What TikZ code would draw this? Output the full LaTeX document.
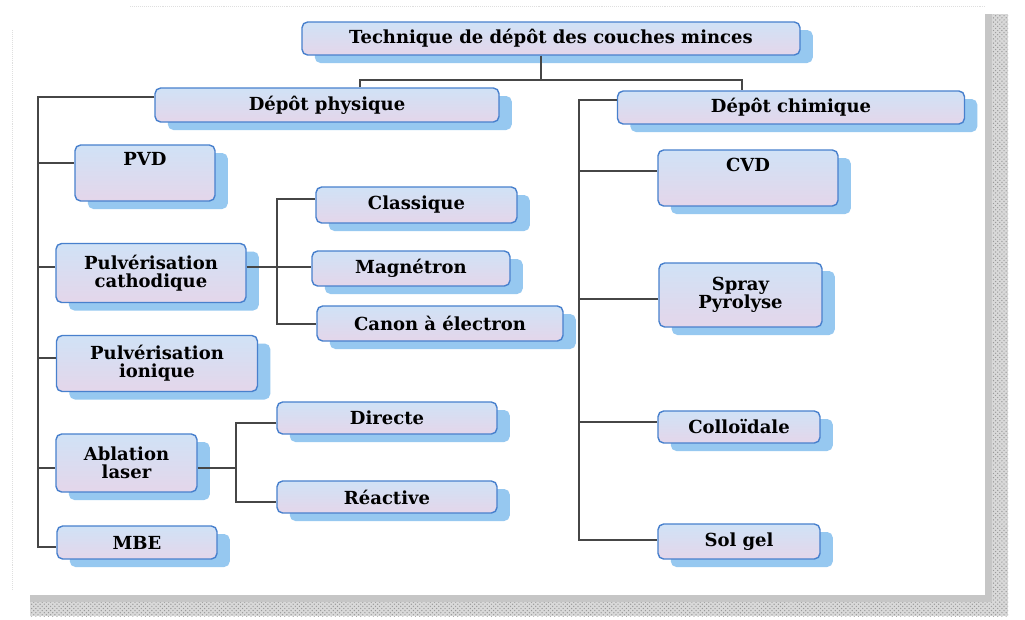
\documentclass[tikz,border=0pt]{standalone}
\usepackage{fontspec}
\setmainfont{DejaVu Serif}
\usetikzlibrary{shadows,patterns}

\definecolor{boxline}{RGB}{72,128,205}
\definecolor{boxtop}{RGB}{208,226,246}
\definecolor{boxbot}{RGB}{228,214,234}
\definecolor{boxshadow}{RGB}{150,200,240}
\definecolor{connline}{RGB}{70,70,70}

\begin{document}
\begin{tikzpicture}[x=0.025cm, y=-0.025cm,
	box/.style={draw=boxline, line width=1pt, rounded corners=4pt,
		top color=boxtop, bottom color=boxbot, align=center, inner sep=1pt,
		font=\fontsize{12.8}{13}\selectfont\bfseries,
		drop shadow={shadow xshift=0.32cm, shadow yshift=-0.2cm, fill=boxshadow, opacity=1}},
	raised/.style={text depth=0.68cm},
	conn/.style={connline, line width=1.1pt}]
\useasboundingbox (0,0) rectangle (1025,619);

%page shadow
	\fill[gray!30] (985,14) rectangle (1008,616);
	\fill[gray!30] (30,595) rectangle (985,616);
	\fill[pattern=crosshatch dots, pattern color=gray!80] (985,14) rectangle (1008,616);
	\fill[pattern=crosshatch dots, pattern color=gray!80] (30,595) rectangle (985,616);
	\fill[gray!45] (985,14) rectangle (992,602);
	\fill[gray!45] (30,595) rectangle (992,602);
	\draw[gray!25, densely dotted] (130,6) -- (985,6);
	\draw[gray!25, densely dotted] (12,30) -- (12,590);
	\fill[white] (22,10) rectangle (985,595);

%boxes
	\node[box, minimum width=498*0.025cm, minimum height=33*0.025cm] (title) at (551,38.5) {Technique de dépôt des couches minces};
	\node[box, minimum width=344*0.025cm, minimum height=34*0.025cm] (phys) at (327,105) {Dépôt physique};
	\node[box, minimum width=347*0.025cm, minimum height=33*0.025cm] (chim) at (791,107.5) {Dépôt chimique};

	\node[box, raised, minimum width=140*0.025cm, minimum height=56*0.025cm] (pvd) at (145,173) {PVD};
	\node[box, minimum width=190*0.025cm, minimum height=59*0.025cm] (cath) at (151,273) {Pulvérisation\\cathodique};
	\node[box, minimum width=201*0.025cm, minimum height=56*0.025cm] (ion) at (157,363.5) {Pulvérisation\\ionique};
	\node[box, minimum width=141*0.025cm, minimum height=58*0.025cm] (abl) at (126.5,463) {Ablation\\laser};
	\node[box, minimum width=160*0.025cm, minimum height=33*0.025cm] (mbe) at (137,542.5) {MBE};

	\node[box, minimum width=201*0.025cm, minimum height=36*0.025cm] (cla) at (416.5,205) {Classique};
	\node[box, minimum width=198*0.025cm, minimum height=35*0.025cm] (mag) at (411,268.5) {Magnétron};
	\node[box, minimum width=246*0.025cm, minimum height=35*0.025cm] (can) at (440,323.5) {Canon à électron};
	\node[box, minimum width=220*0.025cm, minimum height=32*0.025cm] (dir) at (387,418) {Directe};
	\node[box, minimum width=220*0.025cm, minimum height=32*0.025cm] (rea) at (387,497) {Réactive};

	\node[box, raised, minimum width=180*0.025cm, minimum height=56*0.025cm] (cvd) at (748,178) {CVD};
	\node[box, minimum width=163*0.025cm, minimum height=64*0.025cm] (spr) at (740.5,295) {Spray\\Pyrolyse};
	\node[box, minimum width=162*0.025cm, minimum height=32*0.025cm] (col) at (739,427) {Colloïdale};
	\node[box, minimum width=162*0.025cm, minimum height=35*0.025cm] (sol) at (739,541.5) {Sol gel};

%top lines
	\coordinate (tj) at (541,80);
	\coordinate (pj) at (360,80);
	\coordinate (cj) at (742,80);
	\draw[conn] (tj |- title.south) -- (tj);
	\draw[conn] (pj |- phys.north) -- (pj) -- (cj) -- (cj |- chim.north);

%left trunk
	\coordinate (ltop) at (38,97);
	\coordinate (lbot) at (38,547);
	\draw[conn] (ltop -| phys.west) -- (ltop) -- (lbot) -- (lbot -| mbe.west);
	\foreach \n/\y in {pvd/163, cath/267, ion/358, abl/468}{
		\coordinate (l\n) at (38,\y);
		\draw[conn] (l\n) -- (l\n -| \n.west);
	}

%pulverisation cathodique
	\coordinate (cs) at (277,199);
	\coordinate (cm) at (277,267);
	\coordinate (ce) at (277,324);
	\draw[conn] (cm -| cath.east) -- (cm) -- (cm -| mag.west);
	\draw[conn] (cs -| cla.west) -- (cs) -- (ce) -- (ce -| can.west);

%ablation laser
	\coordinate (as) at (236,423);
	\coordinate (am) at (236,468);
	\coordinate (ae) at (236,502);
	\draw[conn] (am -| abl.east) -- (am);
	\draw[conn] (as -| dir.west) -- (as) -- (ae) -- (ae -| rea.west);

%right trunk
	\coordinate (rtop) at (579,100);
	\coordinate (rbot) at (579,540);
	\draw[conn] (rtop -| chim.west) -- (rtop) -- (rbot) -- (rbot -| sol.west);
	\foreach \n/\y in {cvd/171, spr/299, col/422}{
		\coordinate (r\n) at (579,\y);
		\draw[conn] (r\n) -- (r\n -| \n.west);
	}

\end{tikzpicture}
\end{document}
